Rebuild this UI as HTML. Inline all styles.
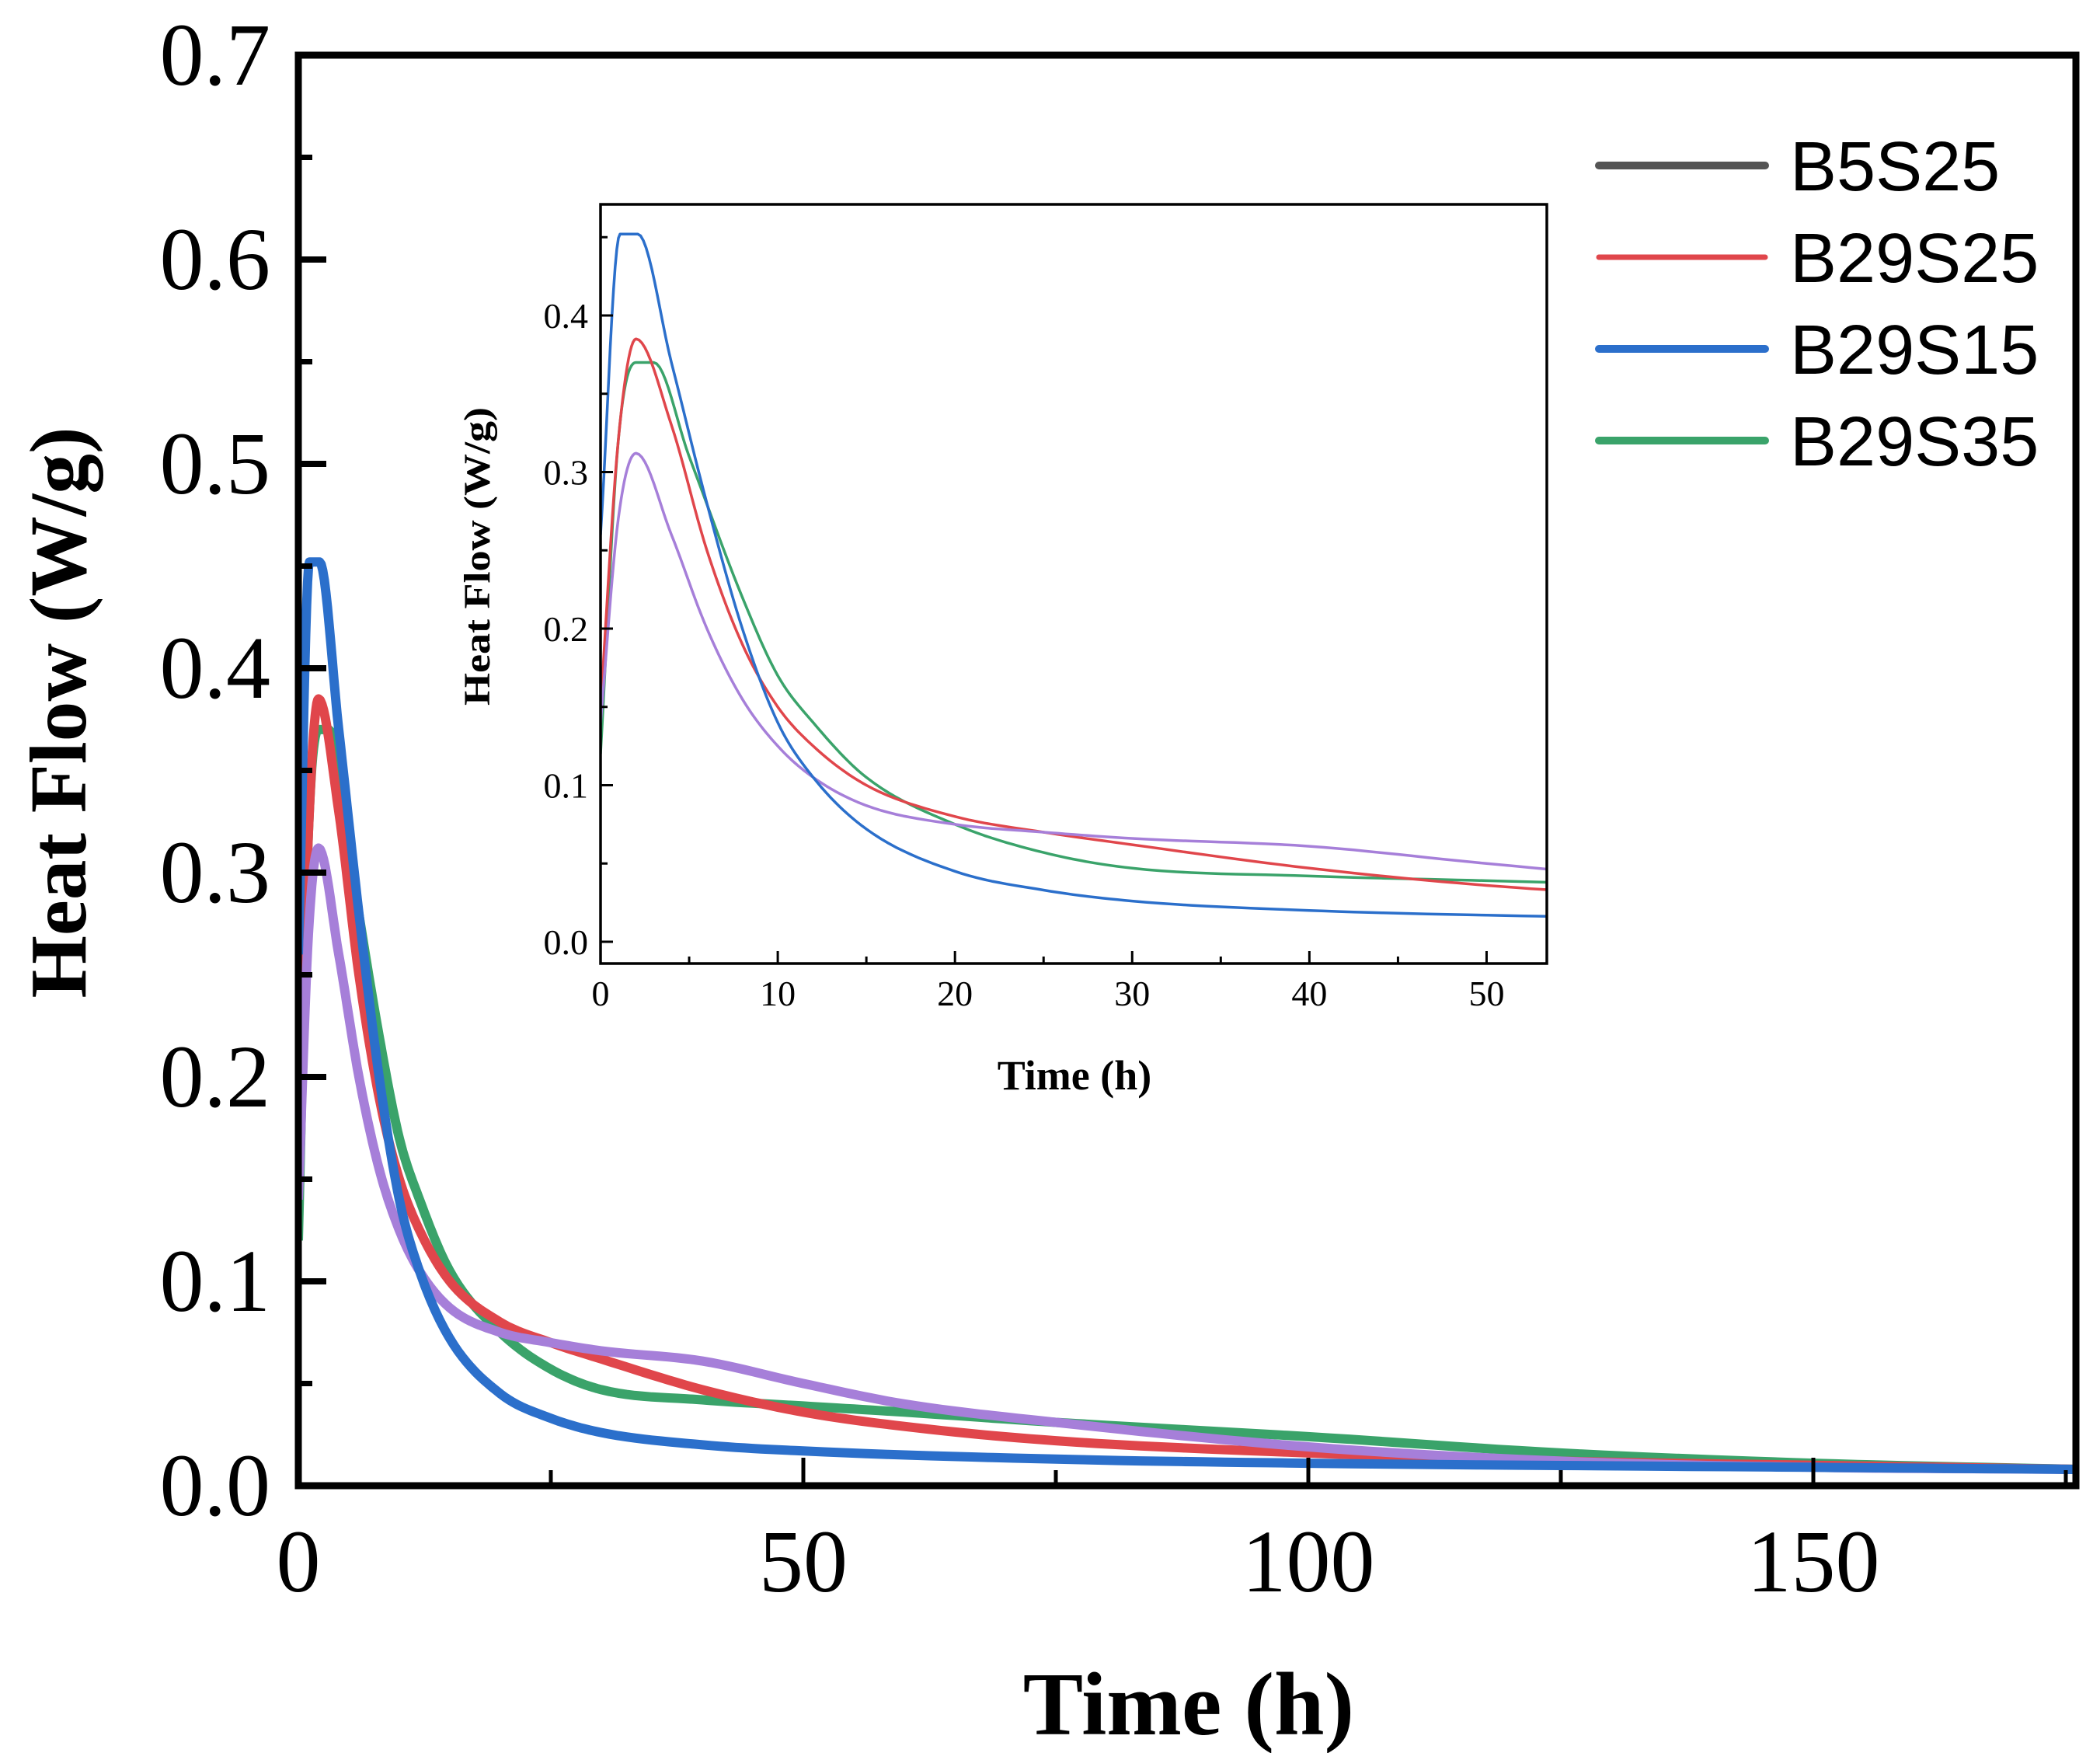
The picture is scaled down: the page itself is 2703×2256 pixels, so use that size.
<!DOCTYPE html>
<html><head><meta charset="utf-8"><style>
html,body{margin:0;padding:0;background:#fff;}
svg{display:block;}
</style></head><body>
<svg id="chart" xmlns="http://www.w3.org/2000/svg" width="2703" height="2256" viewBox="0 0 2703 2256">
<rect width="2703" height="2256" fill="#fff"/>
<g id="main"></g>
<g id="inset"></g>
<g id="legend"></g>
</svg>
<script>
const seriesNames = ["B29S15","B29S25","B29S35","Purple"];
const seriesColors = ["#2b6fcb","#e0464b","#3aa36a","#a67fd9"];
const blueT = [0,1.1,2.1,4,6,8,10,12,15,20,25,30,40,50,75,100,150,176];
const blueV = [0.26,0.452,0.452,0.37,0.28,0.2,0.14,0.105,0.072,0.045,0.033,0.026,0.02,0.017,0.013,0.011,0.009,0.008];
const redT = [0,1,2,4,6,8,10,12,15,20,25,30,40,50,60,75,100,125,150,176];
const redV = [0.15,0.32,0.385,0.33,0.25,0.19,0.15,0.125,0.1,0.08,0.07,0.062,0.047,0.036,0.029,0.022,0.016,0.012,0.01,0.008];
const greenT = [0,1,2,3,5,8,10,12,15,20,25,30,40,50,60,75,100,125,150,176];
const greenV = [0.12,0.32,0.37,0.37,0.31,0.22,0.17,0.14,0.105,0.075,0.057,0.047,0.042,0.039,0.036,0.031,0.024,0.016,0.011,0.008];
const purpleT = [0,1,2,4,6,8,10,12,15,20,25,30,40,50,60,75,100,125,150,176];
const purpleV = [0.14,0.27,0.312,0.26,0.2,0.155,0.125,0.105,0.087,0.075,0.07,0.066,0.061,0.05,0.04,0.031,0.019,0.012,0.009,0.008];
const mainXTicks = [0,50,100,150];
const mainYTicks = [0.0,0.1,0.2,0.3,0.4,0.5,0.6,0.7];
const insetXTicks = [0,10,20,30,40,50];
const insetYTicks = [0.0,0.1,0.2,0.3,0.4];
const legendLabels = ["B5S25","B29S25","B29S15","B29S35"];
const legendColors = ["#555555","#e0464b","#2b6fcb","#3aa36a"];

const NS="http://www.w3.org/2000/svg";
function mk(tag,attrs,parent){const e=document.createElementNS(NS,tag);for(const k in attrs)e.setAttribute(k,attrs[k]);parent.appendChild(e);return e;}
const allT=[blueT,redT,greenT,purpleT], allV=[blueV,redV,greenV,purpleV];

// monotone cubic sampling
function smooth(xs,ys){
  const n=xs.length,d=[],m=new Array(n);
  for(let i=0;i<n-1;i++)d.push((ys[i+1]-ys[i])/(xs[i+1]-xs[i]));
  m[0]=d[0];m[n-1]=d[n-2];
  for(let i=1;i<n-1;i++){m[i]=(d[i-1]*d[i]<=0)?0:(d[i-1]+d[i])/2;}
  for(let i=0;i<n-1;i++){if(d[i]===0){m[i]=0;m[i+1]=0;continue;}const a=m[i]/d[i],b=m[i+1]/d[i],s=a*a+b*b;if(s>9){const t=3/Math.sqrt(s);m[i]=t*a*d[i];m[i+1]=t*b*d[i];}}
  const out=[];
  for(let i=0;i<n-1;i++){const h=xs[i+1]-xs[i];const N=12;for(let k=0;k<N;k++){const t=k/N,t2=t*t,t3=t2*t;
    const y=(2*t3-3*t2+1)*ys[i]+(t3-2*t2+t)*h*m[i]+(-2*t3+3*t2)*ys[i+1]+(t3-t2)*h*m[i+1];out.push([xs[i]+t*h,y]);}}
  out.push([xs[n-1],ys[n-1]]);return out;
}

// ---- main
const M={l:384,r:2672,t:71,b:1912,xmax:176,ymax:0.7};
const mx=v=>M.l+(v/M.xmax)*(M.r-M.l);
const my=v=>M.b-(v/M.ymax)*(M.b-M.t);
const g=document.getElementById('main');
const clip=mk('clipPath',{id:'mclip'},g);mk('rect',{x:M.l,y:M.t,width:M.r-M.l,height:M.b-M.t},clip);
const order=[2,1,3,0];
order.forEach(i=>{
  const pts=smooth(allT[i],allV[i]);
  const d=pts.map((p,j)=>(j?'L':'M')+mx(p[0]).toFixed(1)+','+my(p[1]).toFixed(1)).join('');
  const p=mk('path',{d:d,fill:'none',stroke:seriesColors[i],'stroke-width':12,'stroke-linejoin':'round','clip-path':'url(#mclip)'},g);
  
  
});
const fr=mk('rect',{x:M.l,y:M.t,width:M.r-M.l,height:M.b-M.t,fill:'none',stroke:'#000','stroke-width':9},g);


mainYTicks.forEach(v=>{
  const y=my(v);
  mk('line',{x1:M.l,x2:M.l+36,y1:y,y2:y,stroke:'#000','stroke-width':8},g);
  if(v<0.7){mk('line',{x1:M.l,x2:M.l+18,y1:my(v+0.05),y2:my(v+0.05),stroke:'#000','stroke-width':7},g);}
  const t=mk('text',{x:M.l-36,y:y+38,'text-anchor':'end','font-family':'"Liberation Serif",serif','font-size':114},g);
  t.textContent=v.toFixed(1);
  
  
});
mainXTicks.forEach(v=>{
  const x=mx(v);
  mk('line',{x1:x,x2:x,y1:M.b,y2:M.b-36,stroke:'#000','stroke-width':5},g);
  if(v+25<M.xmax)mk('line',{x1:mx(v+25),x2:mx(v+25),y1:M.b,y2:M.b-20,stroke:'#000','stroke-width':5},g);
  const t=mk('text',{x:x,y:2048,'text-anchor':'middle','font-family':'"Liberation Serif",serif','font-size':114},g);
  t.textContent=v;
  
  
});
let xt=mk('text',{x:1530,y:2232,'text-anchor':'middle','font-family':'"Liberation Serif",serif','font-weight':'bold','font-size':116},g);
xt.textContent='Time (h)';


let yt=mk('text',{x:0,y:0,'text-anchor':'middle','font-family':'"Liberation Serif",serif','font-weight':'bold','font-size':104,transform:'translate(110,917) rotate(-90)',textLength:735,lengthAdjust:'spacingAndGlyphs'},g);
yt.textContent='Heat Flow (W/g)';



// ---- inset
const I={l:773,r:1991,t:263,b:1240,xmax:53.4,y0:1212,per:2015};
const ix=v=>I.l+(v/I.xmax)*(I.r-I.l);
const iy=v=>I.y0-v*I.per;
const h=document.getElementById('inset');
mk('rect',{x:I.l,y:I.t,width:I.r-I.l,height:I.b-I.t,fill:'#fff'},h);
const ic=mk('clipPath',{id:'iclip'},h);mk('rect',{x:I.l,y:I.t,width:I.r-I.l,height:I.b-I.t},ic);
order.forEach(i=>{
  const pts=smooth(allT[i],allV[i]);
  const d=pts.map((p,j)=>(j?'L':'M')+ix(p[0]).toFixed(1)+','+iy(p[1]).toFixed(1)).join('');
  const p=mk('path',{d:d,fill:'none',stroke:seriesColors[i],'stroke-width':3.5,'stroke-linejoin':'round','clip-path':'url(#iclip)'},h);
  
  
});
const ifr=mk('rect',{x:I.l,y:I.t,width:I.r-I.l,height:I.b-I.t,fill:'none',stroke:'#000','stroke-width':3.5},h);


insetYTicks.forEach(v=>{
  const y=iy(v);
  mk('line',{x1:I.l,x2:I.l+16,y1:y,y2:y,stroke:'#000','stroke-width':3},h);
  mk('line',{x1:I.l,x2:I.l+9,y1:iy(v+0.05),y2:iy(v+0.05),stroke:'#000','stroke-width':3},h);
  const t=mk('text',{x:I.l-16,y:y+16,'text-anchor':'end','font-family':'"Liberation Serif",serif','font-size':46},h);
  t.textContent=v.toFixed(1);
  
  
});
insetXTicks.forEach(v=>{
  const x=ix(v);
  mk('line',{x1:x,x2:x,y1:I.b,y2:I.b-16,stroke:'#000','stroke-width':3},h);
  if(v+5<I.xmax)mk('line',{x1:ix(v+5),x2:ix(v+5),y1:I.b,y2:I.b-9,stroke:'#000','stroke-width':3},h);
  const t=mk('text',{x:x,y:I.b+54,'text-anchor':'middle','font-family':'"Liberation Serif",serif','font-size':46},h);
  t.textContent=v;
  
  
});
let ixt=mk('text',{x:1383,y:1402,'text-anchor':'middle','font-family':'"Liberation Serif",serif','font-weight':'bold','font-size':54},h);
ixt.textContent='Time (h)';


let iyt=mk('text',{x:0,y:0,'text-anchor':'middle','font-family':'"Liberation Serif",serif','font-weight':'bold','font-size':48,transform:'translate(630,716) rotate(-90)',textLength:384,lengthAdjust:'spacingAndGlyphs'},h);
iyt.textContent='Heat Flow (W/g)';



// ---- legend
const lg=document.getElementById('legend');
legendLabels.forEach((lab,i)=>{
  const y=213+i*118;
  const ln=mk('line',{x1:2058,x2:2272,y1:y,y2:y,stroke:legendColors[i],'stroke-width':i==1?7:10,'stroke-linecap':'round'},lg);
  
  
  const t=mk('text',{x:2304,y:y+32,'font-family':'"Liberation Sans",sans-serif','font-size':90},lg);
  t.textContent=lab;
  
  
});
</script>
</body></html>
